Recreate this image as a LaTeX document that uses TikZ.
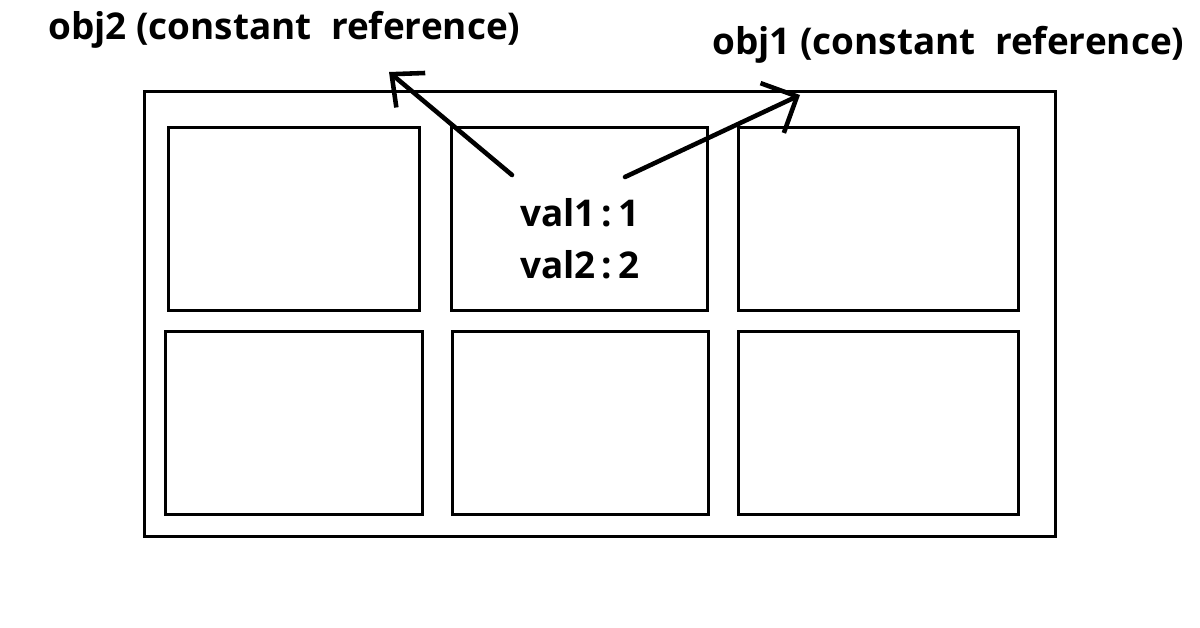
\documentclass[tikz,border=0pt]{standalone}
\usepackage{fontspec}
\setmainfont{Open Sans}
\usetikzlibrary{arrows.meta, positioning}
\tikzstyle{frame} = [draw=black, line width=1.7pt, inner sep=0]
\tikzstyle{cell} = [draw=black, line width=1.7pt, inner sep=0, minimum height=3.68cm]
\tikzstyle{label} = [inner sep=0, font=\fontsize{21}{24}\selectfont\bfseries]
\tikzstyle{pointer} = [line width=2.6pt, line cap=round]

\begin{document}
\begin{tikzpicture}[x=0.02cm, y=-0.02cm]
				\useasboundingbox (0, 0) rectangle (1200, 628);

				\node (Outer) [frame, minimum width=18.24cm, minimum height=8.92cm] at (600, 314) {};

				% the top row
				\node (CellA) [cell, minimum width=5.04cm] at (294, 219) {};
				\node (CellB) [cell, minimum width=5.14cm] at (579.5, 219) {};
				\node (CellC) [cell, minimum width=5.62cm] at (878.5, 219) {};

				% the bottom row
				\node (CellD) [cell, minimum width=5.16cm] at (294, 423) {};
				\node (CellE) [cell, minimum width=5.14cm] at (580.5, 423) {};
				\node (CellF) [cell, minimum width=5.62cm] at (878.5, 423) {};

				% values
				\node (ValA) [label] at (580, 213) {val1\,:\,1};
				\node (ValB) [label] at (580, 265) {val2\,:\,2};

				% references
				\node (ObjB) [label, anchor=west] at (48, 30) {obj2 (constant\ \ reference)};
				\node (ObjA) [label, anchor=west] at (712, 45) {obj1 (constant\ \ reference)};

				\coordinate (ObjBTip) at (389, 72);
				\coordinate (ObjBStart) at (512, 175);
				\draw [pointer, -{Straight Barb[length=5mm, width=9mm]}] (ObjBStart) -- (ObjBTip);

				\coordinate (ObjATip) at (800, 95);
				\coordinate (ObjAStart) at (625, 177);
				\draw [pointer, -{Straight Barb[length=5.5mm, width=11mm]}] (ObjAStart) -- (ObjATip);
			\end{tikzpicture}
\end{document}
